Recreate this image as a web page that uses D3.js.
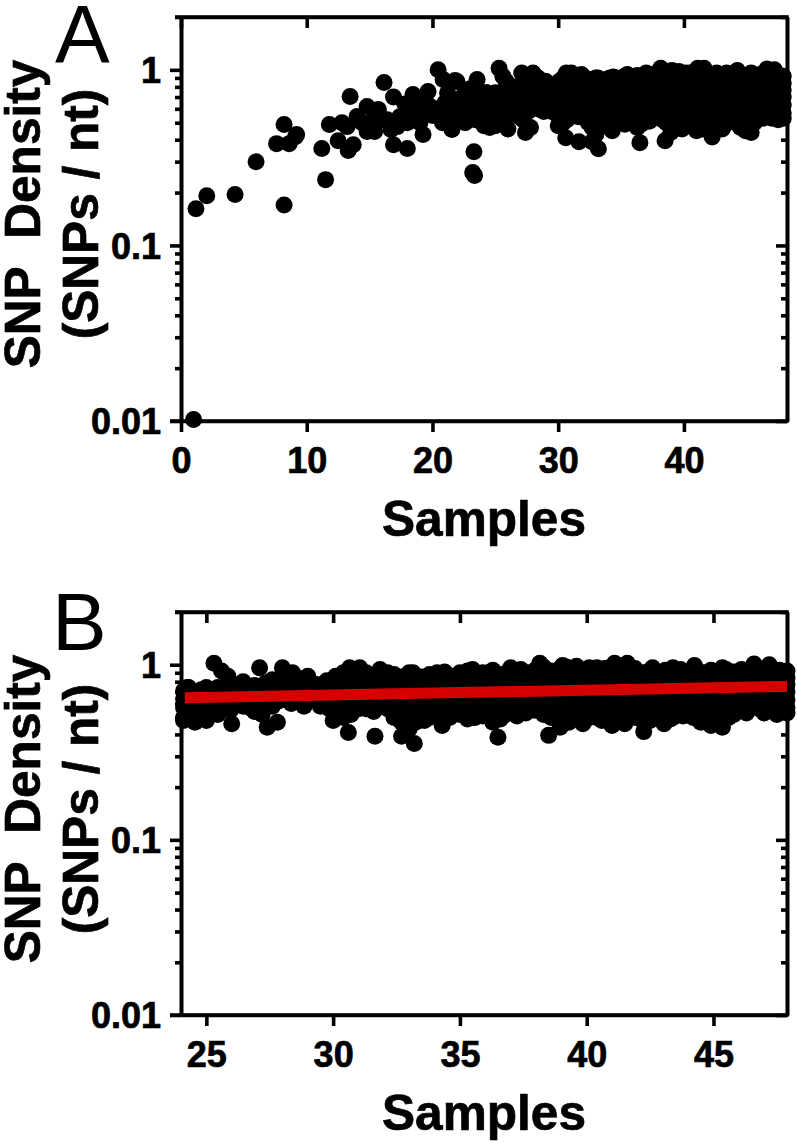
<!DOCTYPE html>
<html><head><meta charset="utf-8">
<script src="https://cdn.jsdelivr.net/npm/d3@7"></script>
<style>html,body{margin:0;background:#fff}svg{display:block}text{font-family:"Liberation Sans",Arial,sans-serif;fill:#000}</style>
</head><body><svg id="c" width="797" height="1143"></svg>
<script>
const yMajor=[1,0.1,0.01];
const yMinor=[2,0.9,0.8,0.7,0.6,0.5,0.4,0.3,0.2,0.09,0.08,0.07,0.06,0.05,0.04,0.03,0.02];
const xTicksA=[0,10,20,30,40];
const xTicksB=[25,30,35,40,45];
const fitLine=[[24.15,0.648],[47.9,0.752]];
const sparse=[[1,0.0102],[1.19,0.162],[2.05,0.192],[4.3,0.195],[5.97,0.30],[8.2,0.17],[8.2,0.488],[7.6,0.38],[8.6,0.38],[9.2,0.428],[9.1,0.416],[11.2,0.357],[11.5,0.237],[11.8,0.488],[13.45,0.705],[16.15,0.847],[16.9,0.70],[12.5,0.395],[12.8,0.50],[13.3,0.347],[13.7,0.375],[13.2,0.475],[14,0.542],[14.8,0.618],[15.7,0.594],[14.8,0.446],[15.4,0.446],[14.4,0.50],[15.3,0.52],[16.4,0.52],[16.9,0.375],[18,0.356],[19.25,0.428],[18.45,0.723],[19.65,0.752],[20.45,1.0],[20.85,0.88],[21.8,0.87],[21.55,0.457],[23.3,0.342],[23.2,0.26],[23.35,0.25]];
const rise=[[18,0.595],[17.4,0.54],[18.8,0.57],[19.8,0.62],[21.2,0.74],[22,0.68],[16.1,0.52],[16.7,0.457],[17.2,0.475],[18,0.5],[19,0.5],[20,0.55],[20.5,0.6],[21,0.65],[21.5,0.58],[22.3,0.6],[22.8,0.55],[23.2,0.65],[23.6,0.72],[23,0.78],[22.5,0.72],[20.8,0.5],[19.4,0.65],[18.5,0.66],[17.8,0.64],[21.95,0.857],[23.55,0.88],[22.6,0.5],[21.6,0.52],[23.4,0.52],[23.9,0.6]];
const upperEdge=[[25.3,1.02],[25.6,0.92],[25.85,0.86],[27.1,0.96],[28,0.96],[28.4,0.9],[29,0.86],[29.75,0.81],[30.65,0.96],[31.05,0.96],[31.85,0.94],[33.15,0.9],[24.25,0.74],[25,0.74],[26.45,0.8],[27.4,0.78],[34.4,0.91],[35.5,0.94],[36.3,0.93],[37,0.96],[38.15,1.02],[39.05,0.99],[39.6,0.98],[40.1,0.96],[41.1,1.02],[41.6,1.02],[42.6,0.96],[43.4,0.96],[44.25,0.99],[45.35,0.96],[46.6,1.01],[47.2,1.0],[47.9,0.92]];
const lowerEdge=[[26,0.46],[27.4,0.44],[27.8,0.47],[27.2,0.52],[30,0.48],[30.6,0.41],[31.65,0.39],[32.7,0.39],[33.2,0.355],[33,0.43],[34.3,0.45],[33.6,0.48],[24.55,0.47],[25,0.48],[24.1,0.48],[28.3,0.625],[29.5,0.58],[30.4,0.6],[31.3,0.56],[34.6,0.5],[35.3,0.49],[35.5,0.5],[36.3,0.47],[36.5,0.385],[37.25,0.51],[37.95,0.55],[38.5,0.395],[38.95,0.44],[39.85,0.46],[41,0.45],[41.5,0.46],[42.25,0.415],[43.05,0.46],[44.2,0.5],[44.9,0.45],[45.35,0.44],[46.15,0.56],[46.8,0.56],[47.8,0.55],[47.9,0.53]];
const lowerFill=[[35.9,0.53],[36.6,0.49],[37.6,0.53],[38.8,0.5],[39.3,0.47],[40,0.49],[40.6,0.48],[41.2,0.49],[41.9,0.5],[42.5,0.48],[43.3,0.49],[43.8,0.51],[44.5,0.47],[45.1,0.48],[45.6,0.5],[46.3,0.53],[47,0.53],[47.5,0.52],[38.3,0.52],[42,0.53],[43.6,0.54],[44.7,0.54],[45.4,0.55],[46.6,0.58],[39.6,0.53],[40.9,0.53],[37.2,0.57],[36,0.6],[47.4,0.6],[46,0.61]];
const bandColumns=[
[24.1,[.5,.57,.64,.71]],[24.4,[.55,.62,.68]],[24.8,[.52,.6,.66,.72]],[25.2,[.56,.63,.7]],[25.7,[.58,.66,.74]],[26.2,[.62,.69,.76]],[26.7,[.57,.65,.72]],[27.1,[.6,.68,.75]],[27.6,[.58,.66,.74,.82]],[28.1,[.64,.71,.79]],[28.6,[.62,.7,.77,.84]],[29.1,[.66,.73,.8]],[29.6,[.6,.68,.75]],
[30.1,[.55,.62,.7,.78,.86]],[30.7,[.52,.6,.68,.75,.84]],[31.3,[.58,.66,.74,.83,.9]],[31.9,[.62,.7,.78,.86]],[32.4,[.5,.57,.64,.72,.8,.88]],[33,[.5,.58,.65,.73,.82,.9]],[33.5,[.54,.61,.69,.77,.85]],[34.1,[.52,.6,.67,.75,.83,.9]],[34.7,[.54,.62,.7,.78,.86]],
[35.3,[.53,.6,.68,.76,.85,.92]],[35.9,[.51,.58,.66,.74,.83,.9]],[36.5,[.55,.62,.7,.79,.88]],[37.1,[.54,.6,.67,.75,.84,.93]],[37.7,[.58,.65,.73,.81,.9]],[38.3,[.56,.63,.71,.8,.89,.97]],[38.9,[.52,.59,.67,.76,.85,.94]],[39.5,[.53,.61,.69,.78,.87,.95]],[40.1,[.51,.58,.66,.74,.83,.92]],[40.7,[.53,.6,.68,.77,.86,.95]],[41.3,[.51,.58,.66,.75,.85,.96]],[41.9,[.54,.62,.7,.79,.88,.95]],[42.5,[.52,.59,.67,.76,.85,.93]],[43.1,[.53,.6,.68,.77,.86,.93]],[43.7,[.55,.62,.7,.78,.87,.94]],[44.3,[.54,.61,.69,.78,.88,.95]],[44.9,[.52,.6,.68,.76,.85,.93]],[45.5,[.53,.61,.69,.78,.86,.94]],[46.1,[.58,.65,.72,.8,.88,.94]],[46.7,[.59,.66,.74,.82,.9,.96]],[47.3,[.58,.65,.73,.81,.89,.95]],[47.9,[.57,.63,.7,.77,.84]]
];
const bandColumnsBetween=[
[24.3,[.53,.6,.67,.74]],[24.6,[.5,.58,.65,.7]],[25,[.54,.61,.68]],[25.45,[.52,.6,.67,.74]],[25.95,[.55,.63,.7,.78]],[26.45,[.58,.66,.73]],[26.9,[.54,.61,.69,.76]],[27.35,[.58,.64,.71,.79]],[27.85,[.62,.7,.78]],[28.35,[.6,.67,.74,.81]],[28.85,[.58,.65,.72,.78]],[29.35,[.62,.69,.77]],[29.85,[.56,.64,.71,.79]],
[30.4,[.5,.58,.66,.74,.82,.9]],[31,[.56,.63,.71,.79,.87]],[31.6,[.54,.6,.69,.77,.85]],[32.15,[.56,.66,.74,.82,.9]],[32.7,[.47,.54,.61,.69,.77,.85]],[33.25,[.47,.55,.62,.7,.78,.86]],[33.8,[.5,.57,.65,.73,.81,.88]],[34.4,[.5,.57,.65,.73,.81,.88]],[35,[.52,.58,.66,.74,.82,.9]],[35.6,[.5,.56,.64,.72,.8,.88]],[36.2,[.5,.58,.66,.74,.83,.91]],[36.8,[.52,.58,.65,.72,.8,.89]],[37.4,[.54,.62,.7,.78,.86,.94]],[38,[.56,.6,.68,.76,.85,.94]],[38.6,[.5,.6,.66,.75,.84,.92]],[39.2,[.5,.56,.64,.72,.81,.9,.97]],[39.8,[.5,.57,.65,.73,.82,.91]],[40.4,[.5,.55,.63,.71,.8,.89,.96]],[41,[.5,.56,.64,.72,.81,.9,.98]],[41.6,[.5,.56,.62,.7,.8,.9,.98]],[42.2,[.48,.56,.64,.73,.82,.9]],[42.8,[.5,.56,.64,.72,.81,.9]],[43.4,[.5,.57,.65,.73,.82,.9]],[44,[.52,.58,.66,.74,.82,.91]],[44.6,[.5,.57,.65,.73,.82,.9]],[45.2,[.5,.57,.65,.73,.82,.9]],[45.8,[.52,.58,.66,.75,.83,.91]],[46.4,[.56,.62,.7,.78,.86,.93]],[47,[.56,.62,.7,.78,.86,.94]],[47.6,[.56,.62,.7,.78,.86,.93]]
];
const bandPoints=[...bandColumns,...bandColumnsBetween].flatMap(([x,ys])=>ys.map(y=>[x,y]));
const allPoints=[...sparse,...rise,...upperEdge,...lowerEdge,...lowerFill,...bandPoints];

const panels=[
 {letter:"A",lx:55,ly:62,top:17,bottom:421,titleY:214,xDomain:[0,48.2],xTicks:xTicksA,pts:allPoints,line:null},
 {letter:"B",lx:52,ly:650,top:612,bottom:1015,titleY:809,xDomain:[24,47.9],xTicks:xTicksB,pts:allPoints.filter(d=>d[0]>=24),line:fitLine}
];
const svg=d3.select("#c");
const L=181,R=787,SW=3.6;
const bold=(sel,size)=>sel.attr("font-size",size).attr("font-weight","bold").style("fill","#000").attr("stroke","#000").attr("stroke-width",0.7);
panels.forEach(p=>{
 const x=d3.scaleLinear().domain(p.xDomain).range([L,R]);
 const y=d3.scaleLog().domain([0.01,2]).range([p.bottom,p.top]);
 const g=svg.append("g");
 const fmt=d=>String(d);
 const ax=(gen,tx,ty)=>{const a=g.append("g").attr("transform",`translate(${tx},${ty})`).call(gen);
  a.select(".domain").attr("stroke","#000").attr("stroke-width",SW);
  a.selectAll(".tick line").attr("stroke","#000").attr("stroke-width",SW);return a;};
 const noPath=gen=>gen.tickSizeOuter(0);
 const al=ax(noPath(d3.axisLeft(y).tickValues(yMajor).tickSize(11).tickFormat(fmt)),L,0);
 bold(al.selectAll(".tick text"),36).attr("text-anchor","end").attr("x",-20).attr("dy","0.36em");
 ax(noPath(d3.axisLeft(y).tickValues(yMinor).tickSize(6).tickFormat("")),L,0);
 ax(noPath(d3.axisLeft(y).tickValues(yMajor).tickSize(11).tickFormat("")),R,0);
 ax(noPath(d3.axisLeft(y).tickValues(yMinor).tickSize(6).tickFormat("")),R,0);
 const ab=ax(noPath(d3.axisBottom(x).tickValues(p.xTicks).tickSize(11).tickFormat(fmt)),0,p.bottom);
 bold(ab.selectAll(".tick text"),36).attr("y",26).attr("dy","0.71em");
 ax(noPath(d3.axisBottom(x).tickValues(p.xTicks).tickSize(11).tickFormat("")),0,p.top);
 g.append("line").attr("x1",170).attr("x2",R+1.8).attr("y1",y(0.01)).attr("y2",y(0.01)).attr("stroke","#000").attr("stroke-width",SW);
 g.append("line").attr("x1",175).attr("x2",R+1.8).attr("y1",y(2)).attr("y2",y(2)).attr("stroke","#000").attr("stroke-width",SW);
 g.append("g").selectAll("circle").data(p.pts).join("circle")
  .attr("cx",d=>x(d[0])).attr("cy",d=>y(d[1])).attr("r",8.5).attr("fill","#000");
 if(p.line){
  g.append("path").attr("d",d3.line().x(d=>x(d[0])).y(d=>y(d[1]))(p.line))
   .attr("fill","none").attr("stroke","#d60000").attr("stroke-width",11);
 }
 bold(g.append("text").attr("x",484).attr("y",p.bottom+115).attr("text-anchor","middle"),49.6).text("Samples");
 bold(g.append("text").attr("transform",`translate(40,${p.titleY}) rotate(-90)`).attr("text-anchor","middle"),49.6).text("SNP\u00a0\u00a0Density");
 bold(g.append("text").attr("transform",`translate(98,${p.titleY}) rotate(-90)`).attr("text-anchor","middle"),49.6).text("(SNPs / nt)");
 g.append("text").attr("x",p.lx).attr("y",p.ly).attr("font-size",82).text(p.letter);
});
</script></body></html>
